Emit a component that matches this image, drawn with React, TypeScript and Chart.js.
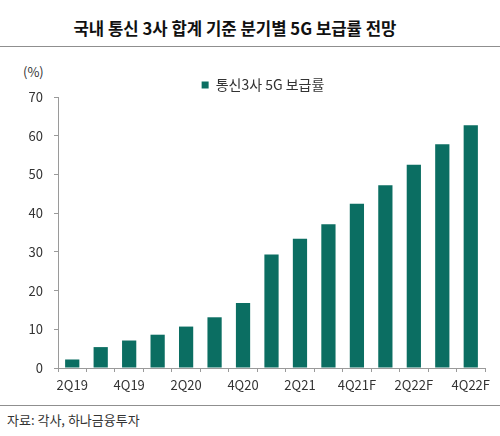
import React, { useEffect, useRef } from "react";
import { Chart, registerables } from "chart.js";

Chart.register(...registerables);

const categories = [
  "2Q19", "3Q19", "4Q19", "1Q20", "2Q20", "3Q20", "4Q20", "1Q21",
  "2Q21", "3Q21", "4Q21F", "1Q22F", "2Q22F", "3Q22F", "4Q22F",
];
const penetration = [2.2, 5.4, 7.1, 8.6, 10.7, 13.1, 16.8, 29.3, 33.4, 37.1, 42.4, 47.2, 52.5, 57.8, 62.7];
const seriesName = "통신3사 5G 보급률";
const titleText = "국내 통신 3사 합계 기준 분기별 5G 보급률 전망";
const sourceText = "자료: 각사, 하나금융투자";
const unitText = "(%)";

const FONT = "'Noto Sans CJK KR', 'Noto Sans', sans-serif";
const BAR = "#0b6e62";
const AXIS = "#9a9a9a";
const TEXT = "#333333";

export default function App() {
  const ref = useRef<HTMLCanvasElement | null>(null);

  useEffect(() => {
    document.body.style.margin = "0";
    const legendTrim = {
      id: "legendTrim",
      afterInit(chart: any) {
        const lg = chart.legend;
        if (lg && !lg.__trimmed) {
          const orig = lg.fit.bind(lg);
          lg.fit = function () {
            orig();
            this.height -= 5;
          };
          lg.__trimmed = true;
        }
      },
      afterLayout(chart: any) {
        const lg = chart.legend;
        if (lg) {
          lg.left = 41;
        }
      },
    };
    const chart = new Chart(ref.current as HTMLCanvasElement, {
      type: "bar",
      data: {
        labels: categories,
        datasets: [
          {
            label: seriesName,
            data: penetration,
            backgroundColor: BAR,
            borderColor: BAR,
            borderWidth: 0,
            barPercentage: 0.5,
            categoryPercentage: 1,
          },
        ],
      },
      options: {
        animation: false,
        responsive: false,
        maintainAspectRatio: false,
        layout: { padding: { left: 0, right: 15, top: 18, bottom: 0 } },
        plugins: {
          tooltip: { enabled: false },
          legend: {
            position: "top",
            labels: {
              boxWidth: 7,
              boxHeight: 7,
              padding: 10,
              color: TEXT,
              font: { family: FONT, size: 14 },
            },
          },
        },
        scales: {
          x: {
            grid: {
              offset: true,
              drawOnChartArea: false,
              drawTicks: true,
              tickLength: 4,
              color: AXIS,
            },
            border: { display: true, color: AXIS, width: 1 },
            ticks: {
              autoSkip: false,
              maxRotation: 0,
              padding: 5,
              color: TEXT,
              font: { family: FONT, size: 13 },
              callback: (_v: any, i: number) => (i % 2 === 0 ? categories[i] : ""),
            },
            afterFit: (s: any) => {
              s.height = 32;
              s.paddingLeft = 0;
              s.paddingRight = 0;
            },
          },
          y: {
            min: 0,
            max: 70,
            grid: {
              drawOnChartArea: false,
              drawTicks: true,
              tickLength: 4,
              color: AXIS,
            },
            border: { display: true, color: AXIS, width: 1 },
            ticks: {
              stepSize: 10,
              padding: 11,
              color: TEXT,
              font: { family: FONT, size: 13 },
            },
            afterFit: (s: any) => {
              s.width = 58;
            },
          },
        },
      },
      plugins: [legendTrim],
    } as any);
    return () => chart.destroy();
  }, []);

  return (
    <div
      style={{
        position: "fixed",
        left: 0,
        top: 0,
        width: 500,
        height: 436,
        background: "#fff",
        fontFamily: FONT,
        color: TEXT,
        overflow: "hidden",
      }}
    >
      <div
        style={{
          position: "absolute",
          left: 0,
          top: 17,
          width: 470,
          textAlign: "center",
          fontSize: 16.7,
          lineHeight: "22px",
          fontWeight: 700,
          color: "#111",
          whiteSpace: "nowrap",
        }}
      >
        {titleText}
      </div>
      <div style={{ position: "absolute", left: 0, top: 46, width: 500, height: 1, background: "#8f8f8f" }} />
      <div
        style={{
          position: "absolute",
          left: 23,
          top: 63,
          fontSize: 13,
          lineHeight: "18px",
        }}
      >
        {unitText}
      </div>
      <canvas
        ref={ref}
        width={500}
        height={350}
        style={{ position: "absolute", left: 0, top: 50, width: 500, height: 350 }}
      />
      <div style={{ position: "absolute", left: 0, top: 405, width: 500, height: 1, background: "#8f8f8f" }} />
      <div
        style={{
          position: "absolute",
          left: 7,
          top: 411,
          fontSize: 13,
          lineHeight: "18px",
          whiteSpace: "nowrap",
        }}
      >
        {sourceText}
      </div>
    </div>
  );
}
